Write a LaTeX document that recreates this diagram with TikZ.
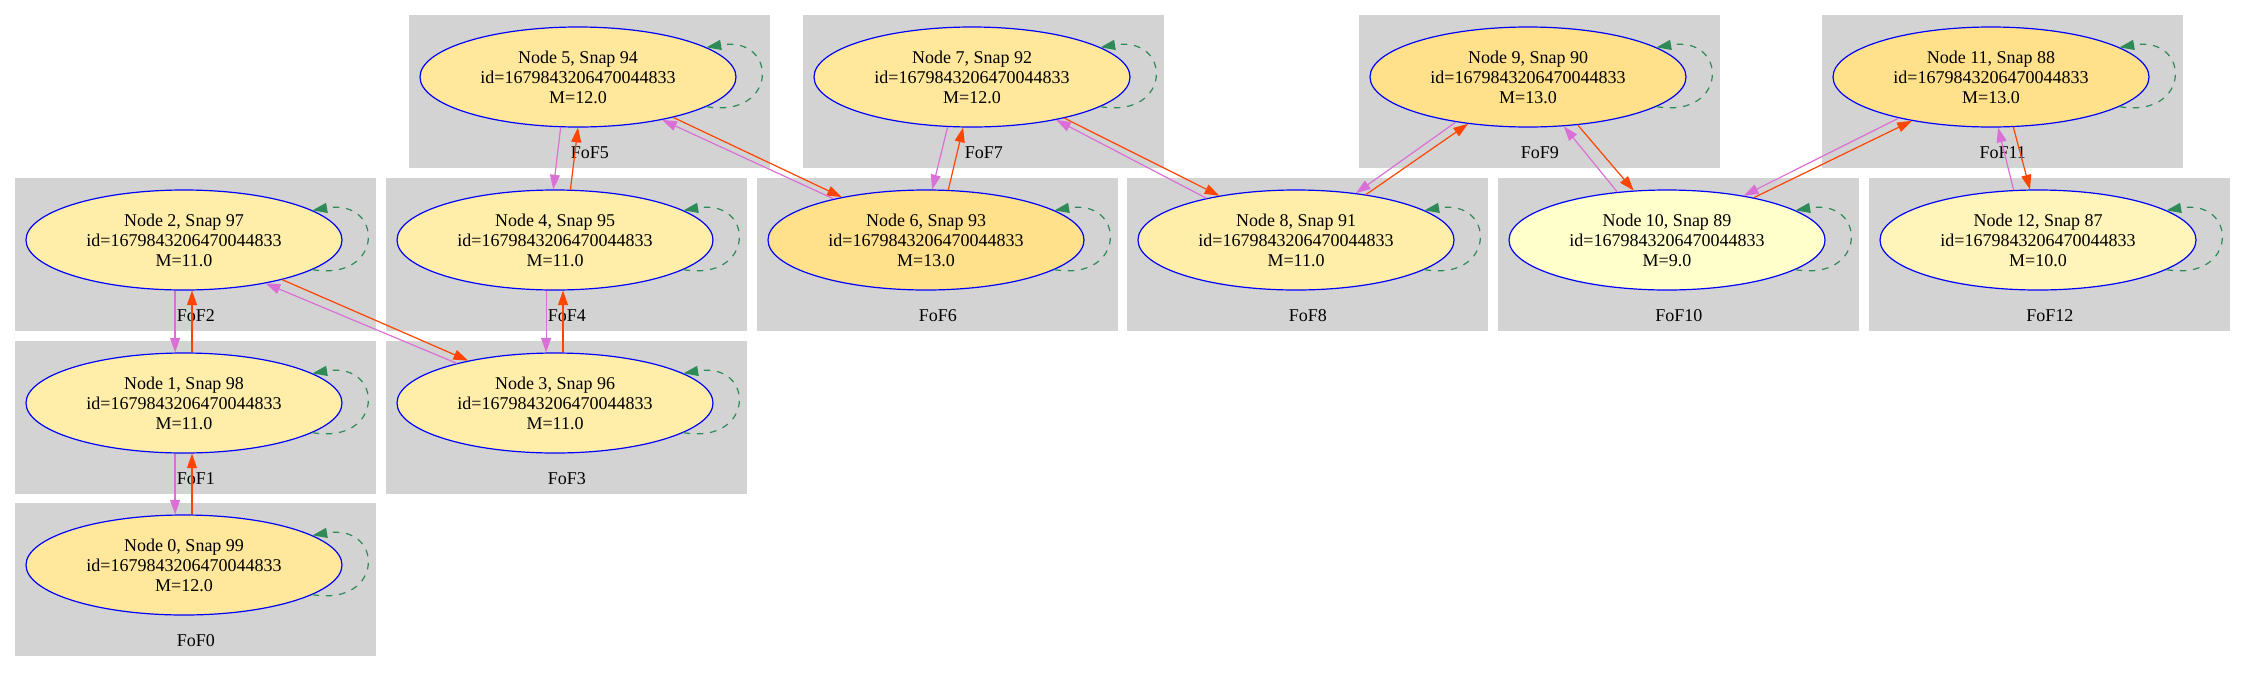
\documentclass[tikz,border=0pt]{standalone}
\usepackage{fontspec}
\setmainfont{Liberation Serif}
\usepackage{tikz}
\usetikzlibrary{positioning, calc, shapes.geometric, arrows.meta}
\definecolor{fofgrau}{HTML}{D3D3D3}
\definecolor{orchid}{HTML}{DA70D6}
\definecolor{orangered}{HTML}{FF4500}
\definecolor{seagreen}{HTML}{2E8B57}
\definecolor{m9}{HTML}{FFFFCC}
\definecolor{m10}{HTML}{FFF4B9}
\definecolor{m11}{HTML}{FFEEAA}
\definecolor{m12}{HTML}{FFE89C}
\definecolor{m13}{HTML}{FFE18C}
\tikzset{gruppe/.style={rectangle,fill=fofgrau,anchor=north west,inner sep=0,
		minimum width=270.75pt, minimum height=114.75pt},
	halo/.style={ellipse,draw=blue,line width=0.9pt,inner sep=0,align=center,
		minimum width=237pt, minimum height=75pt},
	gruppenname/.style={inner sep=0},
	vor/.style={draw=orangered,line width=0.9pt,-{Triangle[length=11pt,width=7.5pt]}},
	zurueck/.style={draw=orchid,line width=0.9pt,-{Triangle[length=11pt,width=7.5pt]}},
	schleife/.style={draw=seagreen,line width=0.9pt,dash pattern=on 5pt off 5pt,
		-{Triangle[length=11pt,width=7.5pt]}} }

\begin{document}
\begin{tikzpicture}
	[x=0.75pt, y=-0.75pt, font=\fontsize{13.5}{15}\selectfont]
	\useasboundingbox (0,0) rectangle (2245,672);

  % FoF-Gruppen
  \node (f0) [gruppe] at (15,503) {};
  \node (f1) [gruppe] at (15,341) {};
  \node (f2) [gruppe] at (15,178) {};
  \node (f3) [gruppe] at (386,341) {};
  \node (f4) [gruppe] at (386,178) {};
  \node (f5) [gruppe] at (409,15) {};
  \node (f6) [gruppe] at (757,178) {};
  \node (f7) [gruppe] at (803,15) {};
  \node (f8) [gruppe] at (1127,178) {};
  \node (f9) [gruppe] at (1359,15) {};
  \node (f10) [gruppe] at (1498,178) {};
  \node (f11) [gruppe] at (1822,15) {};
  \node (f12) [gruppe] at (1869,178) {};

  \node (t0) [gruppenname, above=7.5pt of f0.south] {FoF0};
  \node (t1) [gruppenname, above=7.5pt of f1.south] {FoF1};
  \node (t2) [gruppenname, above=7.5pt of f2.south] {FoF2};
  \node (t3) [gruppenname, above=7.5pt of f3.south] {FoF3};
  \node (t4) [gruppenname, above=7.5pt of f4.south] {FoF4};
  \node (t5) [gruppenname, above=7.5pt of f5.south] {FoF5};
  \node (t6) [gruppenname, above=7.5pt of f6.south] {FoF6};
  \node (t7) [gruppenname, above=7.5pt of f7.south] {FoF7};
  \node (t8) [gruppenname, above=7.5pt of f8.south] {FoF8};
  \node (t9) [gruppenname, above=7.5pt of f9.south] {FoF9};
  \node (t10) [gruppenname, above=7.5pt of f10.south] {FoF10};
  \node (t11) [gruppenname, above=7.5pt of f11.south] {FoF11};
  \node (t12) [gruppenname, above=7.5pt of f12.south] {FoF12};

  % Halos
  \node (n0) [halo, fill=m12] at ($(f0.north west)+(169,62)$) {Node 0, Snap 99\\id=1679843206470044833\\M=12.0};
  \node (n1) [halo, fill=m11] at ($(f1.north west)+(169,62)$) {Node 1, Snap 98\\id=1679843206470044833\\M=11.0};
  \node (n2) [halo, fill=m11] at ($(f2.north west)+(169,62)$) {Node 2, Snap 97\\id=1679843206470044833\\M=11.0};
  \node (n3) [halo, fill=m11] at ($(f3.north west)+(169,62)$) {Node 3, Snap 96\\id=1679843206470044833\\M=11.0};
  \node (n4) [halo, fill=m11] at ($(f4.north west)+(169,62)$) {Node 4, Snap 95\\id=1679843206470044833\\M=11.0};
  \node (n5) [halo, fill=m12] at ($(f5.north west)+(169,62)$) {Node 5, Snap 94\\id=1679843206470044833\\M=12.0};
  \node (n6) [halo, fill=m13] at ($(f6.north west)+(169,62)$) {Node 6, Snap 93\\id=1679843206470044833\\M=13.0};
  \node (n7) [halo, fill=m12] at ($(f7.north west)+(169,62)$) {Node 7, Snap 92\\id=1679843206470044833\\M=12.0};
  \node (n8) [halo, fill=m11] at ($(f8.north west)+(169,62)$) {Node 8, Snap 91\\id=1679843206470044833\\M=11.0};
  \node (n9) [halo, fill=m13] at ($(f9.north west)+(169,62)$) {Node 9, Snap 90\\id=1679843206470044833\\M=13.0};
  \node (n10) [halo, fill=m9] at ($(f10.north west)+(169,62)$) {Node 10, Snap 89\\id=1679843206470044833\\M=9.0};
  \node (n11) [halo, fill=m13] at ($(f11.north west)+(169,62)$) {Node 11, Snap 88\\id=1679843206470044833\\M=13.0};
  \node (n12) [halo, fill=m10] at ($(f12.north west)+(169,62)$) {Node 12, Snap 87\\id=1679843206470044833\\M=10.0};

  % Schleifen
  \draw[schleife] (n0.-13) .. controls +(72,12) and +(72,-12) .. (n0.13);
  \draw[schleife] (n1.-13) .. controls +(72,12) and +(72,-12) .. (n1.13);
  \draw[schleife] (n2.-13) .. controls +(72,12) and +(72,-12) .. (n2.13);
  \draw[schleife] (n3.-13) .. controls +(72,12) and +(72,-12) .. (n3.13);
  \draw[schleife] (n4.-13) .. controls +(72,12) and +(72,-12) .. (n4.13);
  \draw[schleife] (n5.-13) .. controls +(72,12) and +(72,-12) .. (n5.13);
  \draw[schleife] (n6.-13) .. controls +(72,12) and +(72,-12) .. (n6.13);
  \draw[schleife] (n7.-13) .. controls +(72,12) and +(72,-12) .. (n7.13);
  \draw[schleife] (n8.-13) .. controls +(72,12) and +(72,-12) .. (n8.13);
  \draw[schleife] (n9.-13) .. controls +(72,12) and +(72,-12) .. (n9.13);
  \draw[schleife] (n10.-13) .. controls +(72,12) and +(72,-12) .. (n10.13);
  \draw[schleife] (n11.-13) .. controls +(72,12) and +(72,-12) .. (n11.13);
  \draw[schleife] (n12.-13) .. controls +(72,12) and +(72,-12) .. (n12.13);

  % vor und zurueck
  \draw[vor] (n0.81) -- (n1.-81);
  \draw[zurueck] (n1.-100) -- (n0.100);
  \draw[vor] (n1.81) -- (n2.-81);
  \draw[zurueck] (n2.-100) -- (n1.100);
  \draw[vor] (n2.-22) -- (n3.154);
  \draw[zurueck] (n3.158) -- (n2.-28);
  \draw[vor] (n3.81) -- (n4.-81);
  \draw[zurueck] (n4.-100) -- (n3.100);
  \draw[vor] (n4.73) -- (n5.-90);
  \draw[zurueck] (n5.-109) -- (n4.92);
  \draw[vor] (n5.-23) -- (n6.153);
  \draw[zurueck] (n6.156) -- (n5.-27);
  \draw[vor] (n6.66) -- (n7.-100);
  \draw[zurueck] (n7.-116) -- (n6.83);
  \draw[vor] (n7.-24) -- (n8.150);
  \draw[zurueck] (n8.155) -- (n7.-27);
  \draw[vor] (n8.33) -- (n9.-142);
  \draw[zurueck] (n9.-148) -- (n8.38);
  \draw[vor] (n9.-44) -- (n10.124);
  \draw[zurueck] (n10.136) -- (n9.-54);
  \draw[vor] (n10.26) -- (n11.-151);
  \draw[zurueck] (n11.-156) -- (n10.30);
  \draw[vor] (n11.-66) -- (n12.99);
  \draw[zurueck] (n12.116) -- (n11.-82);
\end{tikzpicture}
\end{document}
